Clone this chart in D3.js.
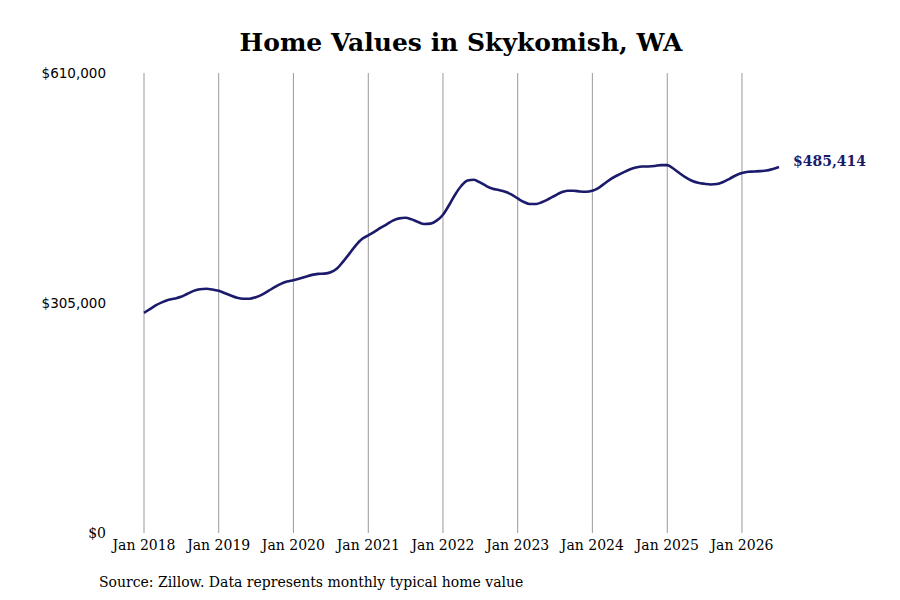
<!DOCTYPE html>
<html>
<head>
<meta charset="utf-8">
<script src="https://cdn.jsdelivr.net/npm/d3@7"></script>
<style>
  body { margin: 0; background: #fff; }
  svg { display: block; }
</style>
</head>
<body>
<div class="chart"></div>
<script>
// Monthly typical home value, Jan 2018 .. Jul 2026
const startMonth = '2018-01';
const homeValues = [
  292000, 297300, 302100, 306100, 309200, 311000, 313200, 317200, 321100, 323300, 323800, 322900,
  321100, 318000, 314900, 311900, 310600, 310600, 312700, 316200, 321100, 325900, 330400, 333400,
  335200, 337400, 339700, 342300, 343600, 344000, 345800, 350700, 360300, 370500, 381500, 389900,
  394700, 399600, 404500, 409300, 414200, 417200, 418100, 415900, 412400, 409800, 410200, 414200,
  422100, 435300, 448600, 460500, 467500, 468400, 464900, 460100, 456500, 454800, 452500, 449000,
  443700, 438900, 436300, 436300, 438900, 442900, 447200, 451600, 453900, 453900, 452900, 452500,
  453900, 457800, 463500, 469700, 474100, 478300, 482000, 484700, 486000, 486000, 486600, 487900,
  487900, 483000, 477300, 471500, 467100, 464400, 463100, 462200, 462700, 465400, 469700, 474100,
  477300, 479000, 479300, 479900, 480600, 482800, 485414
];
const yTicks = [0, 305000, 610000];
const tickYears = [2018, 2019, 2020, 2021, 2022, 2023, 2024, 2025, 2026];
const chartTitle = 'Home Values in Skykomish, WA';
const sourceNote = 'Source: Zillow. Data represents monthly typical home value';

const width = 900;
const height = 600;
const margin = { top: 73, right: 121, bottom: 67, left: 144 };
const lineColor = '#1c1a6b';

const parseMonth = d3.timeParse('%Y-%m');
const firstDate = parseMonth(startMonth);
const data = homeValues.map((v, i) => ({ date: d3.timeMonth.offset(firstDate, i), value: v }));

const svg = d3.select('.chart')
  .append('svg')
  .attr('width', width)
  .attr('height', height);

const x = d3.scaleTime()
  .domain(d3.extent(data, d => d.date))
  .range([margin.left, width - margin.right]);

const y = d3.scaleLinear()
  .domain([0, 610000])
  .range([height - margin.bottom, margin.top]);

// Title
svg.append('text')
  .attr('x', 461)
  .attr('y', 51)
  .attr('text-anchor', 'middle')
  .style('font-family', '"DejaVu Serif", serif')
  .style('font-weight', 'bold')
  .style('font-size', '25px')
  .text(chartTitle);

// Vertical gridlines at each January
const janDates = tickYears.map(yr => new Date(yr, 0, 1));
svg.append('g')
  .selectAll('line')
  .data(janDates)
  .enter()
  .append('line')
  .attr('x1', d => x(d))
  .attr('x2', d => x(d))
  .attr('y1', margin.top)
  .attr('y2', height - margin.bottom)
  .attr('stroke', '#999')
  .attr('stroke-width', 1);

// X tick labels
svg.append('g')
  .selectAll('text')
  .data(janDates)
  .enter()
  .append('text')
  .attr('x', d => x(d))
  .attr('y', 550)
  .attr('text-anchor', 'middle')
  .style('font-family', '"DejaVu Serif", serif')
  .style('font-size', '14px')
  .text(d3.timeFormat('Jan %Y'));

// Y tick labels
const fmt = d3.format('$,');
svg.append('g')
  .selectAll('text')
  .data(yTicks)
  .enter()
  .append('text')
  .attr('x', 106)
  .attr('y', d => y(d))
  .attr('dy', '0.35em')
  .attr('text-anchor', 'end')
  .style('font-family', d => d === 0 ? '"DejaVu Serif", serif' : '"DejaVu Sans", sans-serif')
  .style('font-size', d => d === 0 ? '14px' : '13.5px')
  .text(d => fmt(d));

// Line
const line = d3.line()
  .x(d => x(d.date))
  .y(d => y(d.value))
  .curve(d3.curveMonotoneX);

svg.append('path')
  .datum(data)
  .attr('fill', 'none')
  .attr('stroke', lineColor)
  .attr('stroke-width', 2.6)
  .attr('stroke-linejoin', 'round')
  .attr('d', line);

// End label
const last = data[data.length - 1];
svg.append('text')
  .attr('x', x(last.date) + 14)
  .attr('y', y(last.value) - 6)
  .attr('dy', '0.35em')
  .attr('fill', lineColor)
  .style('font-family', '"DejaVu Serif", serif')
  .style('font-weight', 'bold')
  .style('font-size', '14px')
  .text(fmt(last.value));

// Source note
svg.append('text')
  .attr('x', 99)
  .attr('y', 587)
  .style('font-family', '"DejaVu Serif", serif')
  .style('font-size', '14px')
  .text(sourceNote);
</script>
</body>
</html>
